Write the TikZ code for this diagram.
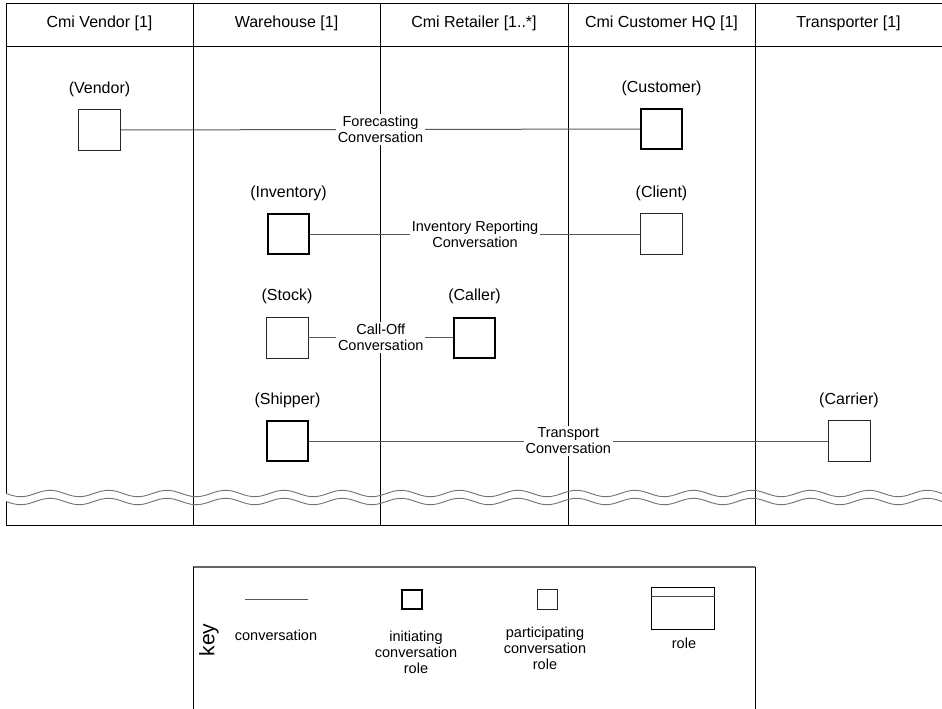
\documentclass[tikz,border=0pt]{standalone}
\usepackage{fontspec}
\setmainfont{Liberation Sans}
\newcommand\lanefont{\fontsize{16}{19}\selectfont}
\newcommand\smallfont{\fontsize{14.5}{16}\selectfont}
\begin{document}
\begin{tikzpicture}[x=1pt,y=-1pt,
  frame/.style={draw=black, line width=0.9pt},
  wave/.style={draw=black!55, line width=0.9pt},
  conv/.style={draw=black!65, line width=1pt},
  initrole/.style={draw=black, line width=2pt, minimum width=41pt, minimum height=40pt, inner sep=0pt},
  partrole/.style={draw=black!85, line width=0.9pt, minimum width=42pt, minimum height=41pt, inner sep=0pt},
  lanehead/.style={font=\lanefont, inner sep=0pt},
  rolelbl/.style={font=\lanefont, inner sep=0pt},
  convlbl/.style={font=\smallfont, fill=white, align=center, inner sep=2pt},
  keytext/.style={font=\smallfont, align=center, inner sep=0pt}
]
\useasboundingbox (0,0) rectangle (942,709);

% swimlane frame
\draw[frame] (6,3) -- (942,3);
\draw[frame] (6,46) -- (942,46);
\draw[frame] (6,525) -- (942,525);
\draw[frame] (6,3) -- (6,492.7);
\draw[frame] (6,501.7) -- (6,525);
\foreach \lx in {193,380.5,568,755}
  \draw[frame] (\lx,3) -- (\lx,525);

% break marks across the lanes (period 58.5, so 360/58.5 = 6.15385 degrees per unit)
\draw[wave] plot[domain=6:942, samples=300, smooth] (\x, {493.5 - 3.2*cos(6.15385*(\x-50))});
\draw[wave] plot[domain=6:942, samples=300, smooth] (\x, {501.5 - 3.2*cos(6.15385*(\x-50))});

% lane headings
\node[lanehead] (h1) at (99.5,23) {Cmi Vendor [1]};
\node[lanehead] (h2) at (286.5,23) {Warehouse [1]};
\node[lanehead] (h3) at (474,23) {Cmi Retailer [1..*]};
\node[lanehead] (h4) at (661.5,23) {Cmi Customer HQ [1]};
\node[lanehead] (h5) at (848.5,23) {Transporter [1]};

% conversation roles
\node[partrole] (vendor)    at (99.5,130)  {};
\node[initrole] (customer)  at (661.5,129) {};
\node[initrole] (inventory) at (288.5,234) {};
\node[partrole] (client)    at (661.5,234) {};
\node[partrole] (stock)     at (287,337.5) {};
\node[initrole] (caller)    at (474.5,337.5) {};
\node[initrole] (shipper)   at (287.5,441) {};
\node[partrole] (carrier)   at (849,441)   {};

\node[rolelbl] (vendorlbl)    at ([yshift=20pt]vendor.north)    {(Vendor)};
\node[rolelbl] (customerlbl)  at ([yshift=20pt]customer.north)  {(Customer)};
\node[rolelbl] (inventorylbl) at ([yshift=20pt]inventory.north) {(Inventory)};
\node[rolelbl] (clientlbl)    at ([yshift=20pt]client.north)    {(Client)};
\node[rolelbl] (stocklbl)     at ([yshift=20pt]stock.north)     {(Stock)};
\node[rolelbl] (callerlbl)    at ([yshift=20pt]caller.north)    {(Caller)};
\node[rolelbl] (shipperlbl)   at ([yshift=20pt]shipper.north)   {(Shipper)};
\node[rolelbl] (carrierlbl)   at ([yshift=20pt]carrier.north)   {(Carrier)};

% conversations
\draw[conv] (vendor) -- node[convlbl] {Forecasting\\Conversation} (customer);
\draw[conv] (inventory) -- node[convlbl] {Inventory Reporting\\Conversation} (client);
\draw[conv] (stock) -- node[convlbl] {Call-Off\\Conversation} (caller);
\draw[conv] (shipper) -- node[convlbl] {Transport\\Conversation} (carrier);

% key
\draw[draw=black!60, line width=1.2pt] (193,567) -- (755,567);
\draw[frame] (193,567) -- (193,709);
\draw[frame] (755,567) -- (755,709);
\node[font=\fontsize{21}{24}\selectfont, rotate=90, inner sep=0pt] (keylbl) at (209,640) {key};

\coordinate (kc1) at (245,599);
\coordinate (kc2) at (308,599);
\draw[conv] (kc1) -- (kc2);
\node[keytext] (kconv) at (276,635) {conversation};

\node[draw=black, line width=2pt, minimum width=20pt, minimum height=19pt, inner sep=0pt] (kinit) at (412,599.5) {};
\node[keytext] (kinitlbl) at (416,652) {initiating\\conversation\\role};

\node[draw=black!85, line width=0.8pt, minimum width=20pt, minimum height=20pt, inner sep=0pt] (kpart) at (547,599) {};
\node[keytext] (kpartlbl) at (545,648) {participating\\conversation\\role};

\node[draw=black, line width=1pt, minimum width=63pt, minimum height=42pt, inner sep=0pt] (krole) at (682.5,608) {};
\draw[draw=black!70, line width=1pt] ([yshift=-10pt]krole.north west) -- ([yshift=-10pt]krole.north east);
\node[keytext] (krolelbl) at (684,643) {role};
\end{tikzpicture}
\end{document}
